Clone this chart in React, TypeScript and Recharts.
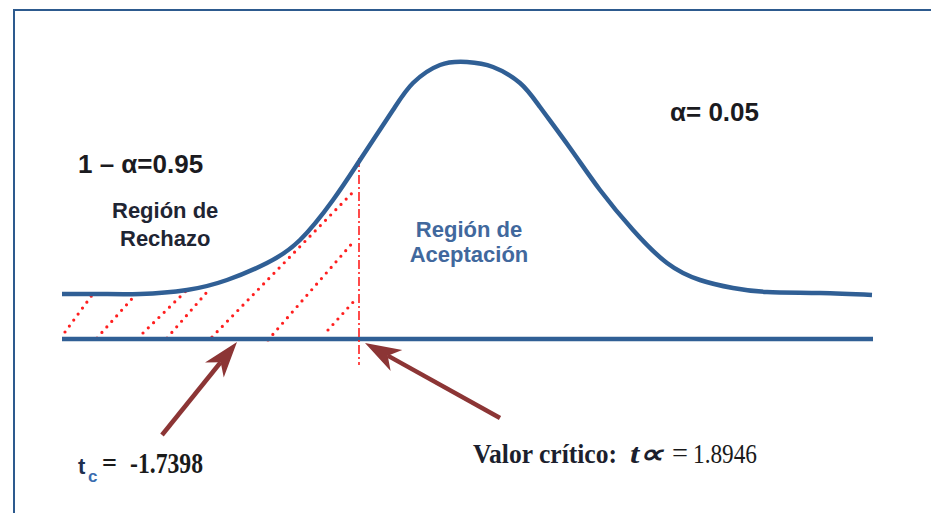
import { ComposedChart, Line, ReferenceLine, XAxis, YAxis } from "recharts";

// t-scale on x (peak at 0), schematic density on y (baseline at 0)
const curveX = [
  -4.05, -3.67, -3.27, -2.8, -2.4, -2.0, -1.67, -1.34, -1.07, -0.74, -0.54, -0.27, 0,
  0.26, 0.53, 0.73, 1.03, 1.33, 1.66, 2.0, 2.33, 2.66, 3.0, 3.53, 4.05,
];
const curveY = [
  0.45, 0.45, 0.45, 0.49, 0.59, 0.76, 0.99, 1.39, 1.79, 2.29, 2.56, 2.74, 2.77,
  2.72, 2.56, 2.32, 1.91, 1.49, 1.09, 0.76, 0.59, 0.51, 0.47, 0.46, 0.44,
];
const curve = curveX.map((x, i) => ({ x, y: curveY[i] }));

const axisStart = { x: -4.05, y: 0 };
const axisEnd = { x: 4.06, y: 0 };

// rejection region hatch (dotted red diagonals)
const hatchFrom = [
  [-4.02, 0.07],
  [-3.7, 0.01],
  [-3.24, 0.06],
  [-3.0, 0.01],
  [-2.55, 0.02],
  [-1.99, -0.01],
  [-1.39, 0.09],
];
const hatchTo = [
  [-3.72, 0.48],
  [-3.3, 0.46],
  [-2.8, 0.49],
  [-2.6, 0.47],
  [-1.12, 1.49],
  [-1.12, 0.99],
  [-1.12, 0.39],
];

const criticalX = -1.08;
const criticalTop = 1.81;
const criticalBottom = -0.26;

const arrowTails = [
  [-3.05, -0.96],
  [0.33, -0.79],
];
const arrowTips = [
  [-2.3, -0.03],
  [-1.02, -0.04],
];

const BLUE = "#305f95";
const RED = "#ff1f1f";
const ARROW = "#8c3535";

function DottedSegment(props: any) {
  const { x1, y1, x2, y2 } = props;
  return (
    <line
      x1={x1}
      y1={y1}
      x2={x2}
      y2={y2}
      stroke={RED}
      strokeWidth={3.2}
      strokeDasharray="0 7.4"
      strokeLinecap="round"
    />
  );
}

function DashedSegment(props: any) {
  const { x1, y1, x2, y2 } = props;
  return (
    <line x1={x1} y1={y1} x2={x2} y2={y2} stroke={RED} strokeWidth={1.6} strokeDasharray="9 3 2 3" />
  );
}

function AxisSegment(props: any) {
  const { x1, y1, x2, y2 } = props;
  return <line x1={x1} y1={y1} x2={x2} y2={y2} stroke={BLUE} strokeWidth={4.5} />;
}

function ArrowSegment(props: any) {
  const { x1, y1, x2, y2 } = props;
  const dx = x2 - x1;
  const dy = y2 - y1;
  const len = Math.hypot(dx, dy) || 1;
  const ux = dx / len;
  const uy = dy / len;
  const px = -uy;
  const py = ux;
  const head = 36;
  const half = 12;
  const notch = 26;
  const bx = x2 - ux * head;
  const by = y2 - uy * head;
  const nx = x2 - ux * notch;
  const ny = y2 - uy * notch;
  const pts = `${x2},${y2} ${bx + px * half},${by + py * half} ${nx},${ny} ${bx - px * half},${by - py * half}`;
  return (
    <g>
      <line x1={x1} y1={y1} x2={nx} y2={ny} stroke={ARROW} strokeWidth={4.5} />
      <polygon points={pts} fill={ARROW} />
    </g>
  );
}

const sans = "'Liberation Sans', Arial, sans-serif";
const serif = "'Liberation Serif', 'Times New Roman', serif";

export default function App() {
  return (
    <div style={{ position: "fixed", left: 0, top: 0, width: 931, height: 513, background: "#fff", overflow: "hidden" }}>
      <div
        style={{
          position: "absolute",
          left: 13,
          top: 9,
          width: 940,
          height: 520,
          borderTop: "2px solid #2d5a8e",
          borderLeft: "2px solid #2d5a8e",
        }}
      />
      <div style={{ position: "absolute", left: 0, top: 0 }}>
        <ComposedChart width={931} height={513} data={curve} margin={{ top: 0, right: 0, bottom: 0, left: 0 }}>
          <XAxis dataKey="x" type="number" domain={[-4.67, 4.64]} hide allowDataOverflow />
          <YAxis type="number" domain={[-1.74, 3.39]} hide allowDataOverflow />
          {hatchFrom.map((p, i) => (
            <ReferenceLine
              key={`h${i}`}
              segment={[
                { x: p[0], y: p[1] },
                { x: hatchTo[i][0], y: hatchTo[i][1] },
              ]}
              shape={DottedSegment}
            />
          ))}
          <ReferenceLine segment={[axisStart, axisEnd]} shape={AxisSegment} />
          <ReferenceLine
            segment={[
              { x: criticalX, y: criticalTop },
              { x: criticalX, y: criticalBottom },
            ]}
            shape={DashedSegment}
          />
          <Line
            dataKey="y"
            type="natural"
            stroke={BLUE}
            strokeWidth={4.5}
            dot={false}
            activeDot={false}
            isAnimationActive={false}
          />
          {arrowTails.map((p, i) => (
            <ReferenceLine
              key={`a${i}`}
              segment={[
                { x: p[0], y: p[1] },
                { x: arrowTips[i][0], y: arrowTips[i][1] },
              ]}
              shape={ArrowSegment}
            />
          ))}
        </ComposedChart>
      </div>
      <svg width={931} height={513} style={{ position: "absolute", left: 0, top: 0, pointerEvents: "none" }}>
        <text x={78} y={173} fontFamily={sans} fontWeight="bold" fontSize={26} fill="#1b1b1f">
          1 – α=0.95
        </text>
        <text x={112} y={218} fontFamily={sans} fontWeight="bold" fontSize={22} fill="#1f2533">
          Región de
        </text>
        <text x={120} y={246} fontFamily={sans} fontWeight="bold" fontSize={22} fill="#1f2533">
          Rechazo
        </text>
        <text x={670} y={121} fontFamily={sans} fontWeight="bold" fontSize={26} fill="#1b1b1f">
          α= 0.05
        </text>
        <text x={469} y={237} textAnchor="middle" fontFamily={sans} fontWeight="bold" fontSize={22} fill="#41689d">
          Región de
        </text>
        <text x={469} y={262} textAnchor="middle" fontFamily={sans} fontWeight="bold" fontSize={22} fill="#41689d">
          Aceptación
        </text>
        <text x={78} y={474} fontFamily={sans} fontWeight="bold" fontSize={22} fill="#1f3050">
          t
        </text>
        <text x={88} y={482} fontFamily={sans} fontWeight="bold" fontSize={17} fill="#3a6cb0">
          c
        </text>
        <text x={102} y={472} fontFamily={serif} fontWeight="bold" fontSize={28} fill="#1a1a1a" textLength={15} lengthAdjust="spacingAndGlyphs">
          =
        </text>
        <text x={130} y={473} fontFamily={serif} fontWeight="bold" fontSize={29} fill="#1a1a1a" textLength={73} lengthAdjust="spacingAndGlyphs">
          -1.7398
        </text>
        <text x={473} y={463} fontFamily={serif} fontWeight="bold" fontSize={27} fill="#1c1f2e" textLength={144} lengthAdjust="spacingAndGlyphs">
          Valor crítico:
        </text>
        <text x={630} y={463} fontFamily={serif} fontWeight="bold" fontStyle="italic" fontSize={27} fill="#1c1f2e" textLength={33} lengthAdjust="spacingAndGlyphs">
          t∝
        </text>
        <text x={672} y={462} fontFamily={serif} fontSize={27} fill="#1a1a1a" textLength={16} lengthAdjust="spacingAndGlyphs">
          =
        </text>
        <text x={693} y={463} fontFamily={serif} fontSize={27} fill="#1a1a1a" textLength={64} lengthAdjust="spacingAndGlyphs">
          1.8946
        </text>
      </svg>
    </div>
  );
}
